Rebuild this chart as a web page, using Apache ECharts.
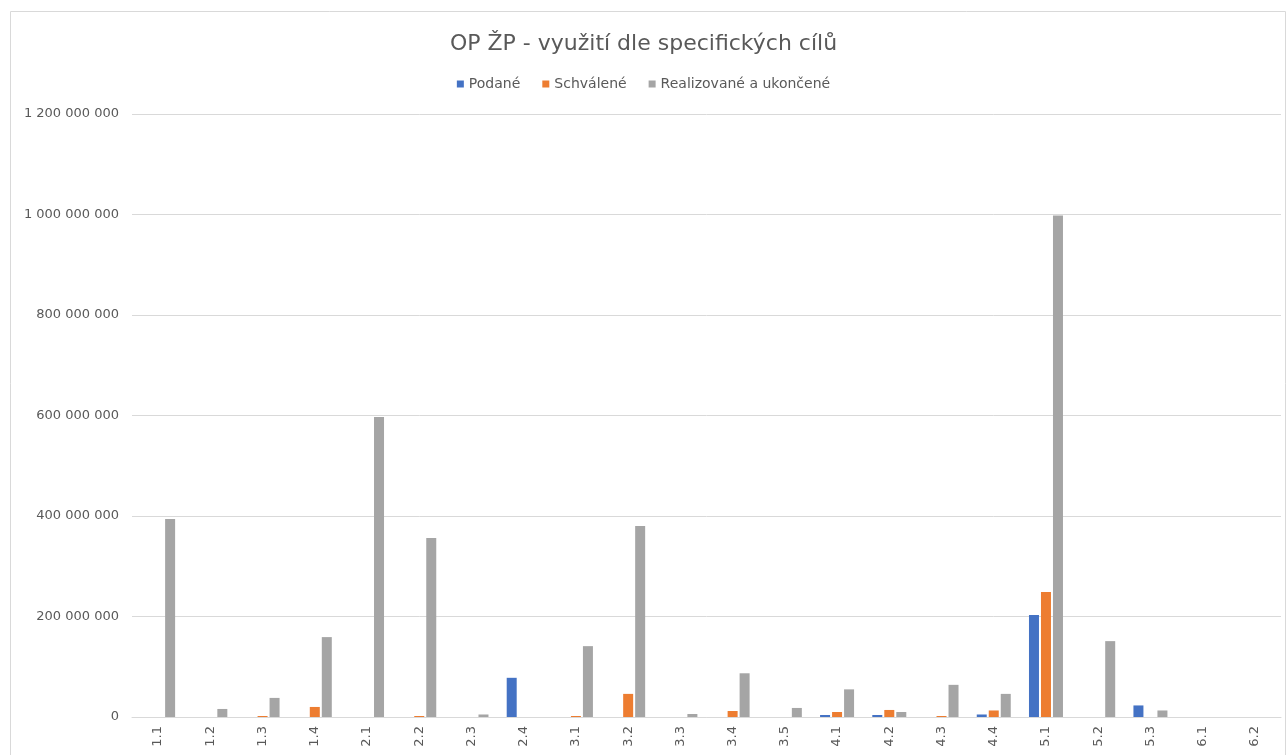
<!DOCTYPE html>
<html>
<head>
<meta charset="utf-8">
<title>OP ŽP - využití dle specifických cílů</title>
<script src="https://cdn.jsdelivr.net/npm/echarts@6/dist/echarts.min.js"></script>
<style>
  html, body { margin: 0; padding: 0; background: #fff; }
  #chart { width: 1287px; height: 755px; }
</style>
</head>
<body>
<div id="chart"></div>
<script>
// specifické cíle
var categories = ['1.1', '1.2', '1.3', '1.4', '2.1', '2.2', '2.3', '2.4', '3.1', '3.2', '3.3',
  '3.4', '3.5', '4.1', '4.2', '4.3', '4.4', '5.1', '5.2', '5.3', '6.1', '6.2']

// hodnoty v Kč
var podane = [0, 0, 0, 0, 0, 0, 0, 78000000, 0, 0, 0,
  0, 0, 4000000, 4000000, 0, 5000000, 203000000, 0, 23000000, 0, 0]
var schvalene = [0, 0, 2000000, 20000000, 0, 2000000, 0, 0, 2000000, 46000000, 0,
  12000000, 0, 10000000, 14000000, 2000000, 13000000, 249000000, 0, 0, 0, 0]
var realizovane = [394000000, 16000000, 38000000, 159000000, 597000000, 356000000, 5000000, 0, 141000000, 380000000, 6000000,
  87000000, 18000000, 55000000, 10000000, 64000000, 46000000, 998000000, 151000000, 13000000, 0, 0]

var seriesNames = ['Podané', 'Schválené', 'Realizované a ukončené']
var colors = ['#4472c4', '#ed7d31', '#a5a5a5']

var font = '"DejaVu Sans", sans-serif'

function fmt(v) {
  return String(v).replace(/\B(?=(\d{3})+(?!\d))/g, ' ')
}

var chart = echarts.init(document.getElementById('chart'))

function bar(name, data, color) {
  return {
    name: name,
    type: 'bar',
    data: data,
    barWidth: 10,
    barGap: '20%',
    itemStyle: { color: color },
    animation: false
  }
}

chart.setOption({
  textStyle: { fontFamily: font },
  title: {
    text: 'OP ŽP - využití dle specifických cílů',
    left: 'center',
    top: 28,
    textStyle: { fontFamily: font, fontSize: 22, fontWeight: 'normal', color: '#595959' }
  },
  legend: {
    data: seriesNames,
    top: 72,
    left: 'center',
    itemWidth: 7,
    itemHeight: 7,
    itemGap: 22,
    icon: 'rect',
    textStyle: { fontFamily: font, fontSize: 14, color: '#595959' }
  },
  graphic: [{
    type: 'rect',
    shape: { x: 10.5, y: 11.5, width: 1275, height: 760 },
    style: { fill: 'none', stroke: '#d9d9d9', lineWidth: 1 },
    silent: true
  }],
  grid: {
    left: 132,
    right: 6,
    top: 114,
    bottom: 38,
    containLabel: false
  },
  xAxis: {
    type: 'category',
    data: categories,
    axisTick: { show: false },
    axisLine: { lineStyle: { color: '#d9d9d9' } },
    axisLabel: {
      rotate: 90,
      margin: 9,
      fontFamily: font,
      fontSize: 13,
      color: '#595959'
    }
  },
  yAxis: {
    type: 'value',
    min: 0,
    max: 1200000000,
    interval: 200000000,
    axisLine: { show: false },
    axisTick: { show: false },
    splitLine: { lineStyle: { color: '#d9d9d9' } },
    axisLabel: {
      margin: 13,
      fontFamily: font,
      fontSize: 13,
      color: '#595959',
      formatter: fmt
    }
  },
  series: [
    bar(seriesNames[0], podane, colors[0]),
    bar(seriesNames[1], schvalene, colors[1]),
    bar(seriesNames[2], realizovane, colors[2])
  ]
})
</script>
</body>
</html>
